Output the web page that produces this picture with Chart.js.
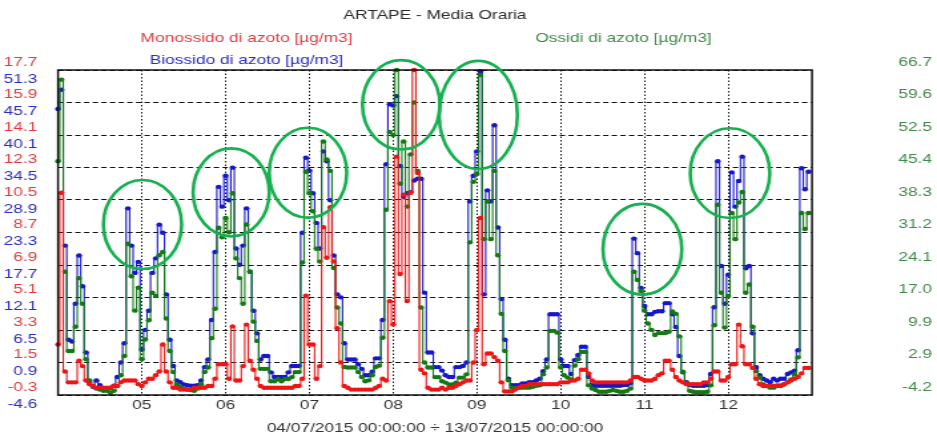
<!DOCTYPE html>
<html>
<head>
<meta charset="utf-8">
<title>ARTAPE - Media Oraria</title>
<script src="https://cdn.jsdelivr.net/npm/chart.js@4.4.1/dist/chart.umd.min.js"></script>
<style>
  html, body { margin: 0; padding: 0; background: #ffffff; }
  #chart { display: block; }
</style>
</head>
<body>
<canvas id="chart" width="704" height="436"></canvas>
<script>
// Day ticks on the time axis (midnight of each day)
const dayLabels = ['05', '06', '07', '08', '09', '10', '11', '12'];

// Tick labels of the three value axes, bottom to top
const redTickLabels   = ['-0.3', '1.5', '3.3', '5.1', '6.9', '8.7', '10.5', '12.3', '14.1', '15.9', '17.7'];
const blueTickLabels  = ['-4.6', '0.9', '6.5', '12.1', '17.7', '23.3', '28.9', '34.5', '40.1', '45.7', '51.3'];
const greenTickLabels = ['-4.2', '2.9', '9.9', '17.0', '24.1', '31.2', '38.3', '45.4', '52.5', '59.6', '66.7'];

// Hourly means from 04/07/2015 00:00, one row per day (24 values)
const monossido = [
  2.5, 10.9, 1.0, 0.4, 0.4, 0.4, 1.6, 1.3, 0.5, 0.3, 0.2, 0.1, 0.1, 0.1, 0.1, 0.1, 0.2, 0.2, 0.4, 0.5, 0.5, 0.5, 0.5, 0.3,
  0.2, 0.4, 0.6, 0.6, 0.8, 1.0, 2.5, 1.0, 0.4, 0.1, 0.1, 0.0, 0.0, 0.0, 0.0, 0.1, 0.1, 0.1, 0.1, 0.2, 0.2, 0.6, 1.4, 1.4,
  1.4, 0.6, 3.5, 0.5, 0.5, 1.3, 3.6, 1.6, 1.1, 0.6, 0.2, 0.1, 0.1, 0.1, 0.1, 0.1, 0.1, 0.1, 0.1, 0.1, 0.2, 0.2, 0.6, 5.2,
  2.5, 2.5, 0.6, 1.3, 9.0, 7.3, 10.1, 7.1, 3.4, 1.5, 0.2, 0.1, 0.0, 0.0, 0.0, 0.0, 0.0, 0.0, 0.0, 0.1, 0.2, 0.6, 0.5, 4.9,
  3.6, 12.9, 6.4, 10.8, 4.9, 10.9, 17.7, 12.0, 1.1, 0.9, 0.1, 0.0, 0.0, 0.0, 0.1, 0.0, 0.1, 0.1, 0.2, 0.3, 0.4, 0.5, 0.5, 1.5,
  3.3, 9.5, 1.4, 2.0, 2.0, 1.8, 1.6, 0.4, -0.1, -0.1, -0.1, 0.0, 0.1, 0.2, 0.2, 0.3, 0.3, 0.3, 0.3, 0.3, 0.3, 0.3, 0.3, 0.3,
  0.4, 0.4, 0.4, 0.5, 0.5, 0.6, 1.1, 1.1, 0.9, 0.5, 0.4, 0.4, 0.4, 0.4, 0.4, 0.4, 0.4, 0.4, 0.4, 0.4, 0.5, 0.7, 0.7, 0.6,
  0.5, 0.5, 0.5, 0.6, 0.8, 0.9, 1.6, 1.6, 1.1, 0.7, 0.5, 0.4, 0.3, 0.3, 0.3, 0.3, 0.3, 0.4, 0.4, 0.6, 1.0, 1.0, 0.5, 0.5,
  0.7, 1.4, 1.4, 3.6, 2.4, 1.4, 1.4, 1.2, 0.6, 0.3, 0.2, 0.2, 0.2, 0.2, 0.2, 0.2, 0.3, 0.4, 0.5, 0.6, 0.7, 0.9, 1.2, 1.2
];

const biossido = [
  44.6, 47.9, 21.1, 4.9, 4.6, 11.1, 19.4, 14.1, 2.7, -2.4, -3.2, -2.1, -2.9, -3.5, -3.5, -3.4, -3.0, -1.5, 1.0, 4.3, 27.5, 21.1, 16.4, 18.3,
  3.2, 6.6, 9.9, 16.4, 18.9, 24.7, 23.3, 12.7, 4.9, 0.4, -2.1, -2.4, -2.8, -2.9, -3.0, -3.0, -2.9, -2.1, 0.2, 1.5, 8.3, 20.0, 31.2, 27.8,
  33.1, 28.9, 34.5, 20.6, 17.8, 21.1, 27.5, 16.6, 9.9, 6.0, 1.5, 2.1, 2.1, -0.7, -1.5, -1.5, -1.5, -1.5, -0.7, 0.4, 0.4, 0.4, 23.3, 36.2,
  34.0, 30.1, 25.0, 20.6, 37.3, 35.6, 28.9, 19.4, 12.7, 12.2, 4.3, 1.5, 1.5, 1.5, 0.7, -0.1, -1.2, -1.2, -0.6, 1.7, 1.7, 8.3, 35.1, 45.4,
  45.2, 46.8, 34.8, 29.5, 30.1, 30.3, 32.3, 32.6, 32.6, 13.0, 2.7, 2.7, 0.2, 0.2, -0.4, -1.2, -1.5, -1.5, 0.2, 0.2, 0.4, 1.0, 28.7, 33.1,
  37.3, 51.1, 12.7, 30.6, 28.7, 41.8, 24.2, 11.9, 4.9, -1.8, -2.9, -2.9, -2.9, -2.6, -2.6, -2.4, -2.4, -2.1, -1.8, -0.5, 1.5, 9.3, 9.3, 9.3,
  1.5, 0.4, 0.4, -1.0, 1.4, 2.3, 3.7, 3.7, -1.5, -2.9, -3.0, -3.0, -3.0, -3.0, -3.0, -3.0, -3.0, -3.0, -2.9, -2.9, -2.6, 22.3, 19.8, 13.8,
  10.7, 9.3, 9.3, 9.7, 9.8, 9.8, 11.2, 11.2, 9.3, 7.1, 2.1, -0.7, -2.4, -2.9, -3.0, -3.0, -3.0, -3.0, -2.9, -1.0, 10.5, 35.6, 17.6, 11.1,
  16.1, 33.7, 27.8, 32.2, 36.4, 17.2, 17.6, 6.0, 0.2, -1.2, -1.8, -2.1, -2.4, -1.8, -2.1, -1.8, -1.8, -1.0, -0.7, -0.4, 3.1, 34.4, 30.8, 33.8
];

const ossidi = [
  46.8, 64.6, 22.7, 5.4, 5.4, 10.7, 21.3, 15.7, 3.6, -1.0, -2.2, -2.8, -3.0, -3.3, -3.3, -3.7, -3.3, -2.2, 0.1, 4.3, 28.8, 21.7, 14.2, 19.2,
  3.6, 7.9, 12.1, 18.1, 17.4, 26.3, 27.0, 12.5, 5.4, 0.8, -1.9, -2.4, -2.8, -3.0, -3.1, -3.3, -2.8, -1.9, 0.8, 1.8, 8.2, 14.6, 32.3, 30.2,
  34.4, 31.3, 39.8, 25.6, 21.3, 15.7, 33.0, 22.7, 11.8, 7.6, 1.5, 1.5, 1.5, -1.2, -1.2, -0.7, -1.2, -0.7, -0.7, -0.3, 0.8, 0.8, 24.7, 44.5,
  39.8, 35.9, 27.7, 24.9, 51.1, 47.2, 44.7, 23.5, 14.9, 11.4, 1.9, 1.8, 1.8, 1.8, 0.8, -0.3, -1.2, -1.0, 0.1, 1.9, 2.2, 8.3, 36.2, 53.2,
  52.5, 66.7, 41.9, 51.1, 36.9, 48.3, 59.6, 44.7, 14.9, 2.9, 1.8, 1.8, -0.3, -0.3, -1.2, -1.5, -1.9, -1.9, -1.5, -0.4, -0.4, 0.3, 29.1, 42.3,
  44.0, 65.6, 29.8, 38.0, 29.8, 44.7, 26.3, 13.5, 5.4, -1.0, -2.6, -2.6, -2.6, -2.6, -2.6, -2.6, -2.4, -2.2, -2.1, 0.3, 1.8, 9.8, 9.8, 9.4,
  1.8, 0.1, -0.4, -0.8, 2.2, 3.6, 5.2, 5.2, -2.1, -2.8, -3.1, -3.5, -3.5, -3.5, -3.3, -3.1, -3.3, -3.5, -3.5, -3.3, -2.8, 22.7, 20.9, 18.5,
  14.2, 11.4, 10.0, 8.9, 9.3, 9.3, 9.3, 9.6, 14.0, 13.5, 8.6, 0.9, -1.6, -3.3, -3.5, -3.6, -3.6, -3.6, -3.5, -2.1, 11.0, 37.3, 18.1, 10.5,
  17.4, 35.5, 29.8, 37.8, 40.1, 18.1, 19.9, 10.7, 1.0, -0.4, -1.9, -2.2, -2.6, -2.6, -2.1, -2.1, -1.9, -1.4, -0.8, 0.3, 4.0, 35.5, 32.0, 35.5
];

const FONT = "'Liberation Sans', Arial, sans-serif";
Chart.defaults.font.family = FONT;
Chart.defaults.font.size = 13;

// Fixed, evenly spaced ticks labelled with the given strings
function fixedAxis(labels) {
  const min = parseFloat(labels[0]);
  const max = parseFloat(labels[labels.length - 1]);
  return {
    min, max,
    afterBuildTicks: s => {
      s.ticks = labels.map((_, i) => ({ value: min + (max - min) * i / (labels.length - 1) }));
    }
  };
}

const toPoints = arr => arr.map((v, i) => ({ x: i, y: v }));

// The NO2 axis takes no room of its own: its labels share the strip of the NO axis
const sharedLeftAxis = {
  id: 'sharedLeftAxis',
  afterLayout(chart) {
    const s = chart.scales.yB;
    s.left = 0;
    s.right = chart.chartArea.left;
    s.width = s.right;
  }
};

// Series names in two columns above the plot
const seriesKey = {
  id: 'seriesKey',
  afterDraw(chart, args, opts) {
    const { ctx, chartArea: a } = chart;
    ctx.save();
    ctx.font = '13px ' + FONT;
    ctx.textAlign = 'center';
    ctx.textBaseline = 'middle';
    chart.data.datasets.forEach((ds, i) => {
      const slot = opts.slots[i];
      ctx.fillStyle = ds.labelColor;
      ctx.fillText(ds.label, a.left + a.width * slot.col, slot.y);
    });
    ctx.restore();
  }
};

// Box around the plotting area
const plotFrame = {
  id: 'plotFrame',
  afterDatasetsDraw(chart, args, opts) {
    const { ctx, chartArea: a } = chart;
    ctx.save();
    ctx.strokeStyle = opts.color;
    ctx.lineWidth = opts.width;
    ctx.strokeRect(a.left, a.top, a.width, a.height);
    ctx.restore();
  }
};

// Ellipses marking the peak periods (hour / NOx level units)
const highlights = {
  id: 'highlights',
  afterDraw(chart, args, opts) {
    const { ctx, scales } = chart;
    const x = scales.x, y = scales.yG;
    ctx.save();
    ctx.strokeStyle = opts.color;
    ctx.lineWidth = opts.width;
    opts.items.forEach(it => {
      const cx = x.getPixelForValue(it.hour);
      const cy = y.getPixelForValue(it.level);
      const rx = x.getPixelForValue(it.hour + it.dh) - cx;
      const ry = cy - y.getPixelForValue(it.level + it.dl);
      ctx.beginPath();
      ctx.ellipse(cx, cy, rx, ry, 0, 0, Math.PI * 2);
      ctx.stroke();
    });
    ctx.restore();
  }
};

function series(label, values, color, labelColor, axis, order) {
  return {
    label, labelColor,
    data: toPoints(values),
    yAxisID: axis,
    order,
    borderColor: color,
    backgroundColor: color,
    borderWidth: 1.1,
    stepped: 'middle',
    pointRadius: 2.2,
    pointHoverRadius: 2.2,
    pointBorderWidth: 0,
    pointBackgroundColor: color,
    clip: false,
    fill: false
  };
}

const chart = new Chart(document.getElementById('chart'), {
  type: 'line',
  data: {
    datasets: [
      series('Monossido di azoto [µg/m3]', monossido, '#ee1515', '#e23a40', 'yR', 1),
      series('Biossido di azoto [µg/m3]', biossido, '#1616cc', '#2c2cc4', 'yB', 3),
      series('Ossidi di azoto [µg/m3]', ossidi, '#137a13', '#3f8a48', 'yG', 2)
    ]
  },
  plugins: [sharedLeftAxis, seriesKey, plotFrame, highlights],
  options: {
    responsive: false,
    devicePixelRatio: 1,
    animation: false,
    events: [],
    layout: { padding: { top: 0, right: 3.8, bottom: 0, left: 0 } },
    plugins: {
      legend: { display: false },
      tooltip: { enabled: false },
      title: {
        display: true,
        text: 'ARTAPE - Media Oraria',
        fullSize: false,
        color: '#2a2a2a',
        font: { size: 13, weight: 'normal' },
        padding: { top: 8, bottom: 46.4 }
      },
      seriesKey: {
        slots: [{ col: 0.25, y: 38 }, { col: 0.25, y: 60 }, { col: 0.75, y: 38 }]
      },
      plotFrame: { color: '#111111', width: 1.5 },
      highlights: {
        color: '#16b050',
        width: 2.6,
        items: [
          { hour: 24.2,  level: 33.0, dh: 11.2, dl: 9.7 },
          { hour: 49.6,  level: 40.0, dh: 10.9, dl: 9.6 },
          { hour: 71.6,  level: 44.3, dh: 11.1, dl: 9.8 },
          { hour: 98.3,  level: 59.1, dh: 11.1, dl: 9.75 },
          { hour: 120.4, level: 56.9, dh: 11.2, dl: 11.8 },
          { hour: 167.4, level: 27.6, dh: 11.3, dl: 9.9 },
          { hour: 192.5, level: 44.2, dh: 11.4, dl: 9.8 }
        ]
      }
    },
    scales: {
      x: {
        type: 'linear',
        position: 'bottom',
        min: 0,
        max: 216,
        afterBuildTicks: s => { s.ticks = dayLabels.map((_, i) => ({ value: (i + 1) * 24 })); },
        afterFit: s => { s.height = 41; },
        ticks: { callback: (v, i) => dayLabels[i], color: '#333333', padding: 3, autoSkip: false, maxRotation: 0 },
        grid: { color: '#111111', lineWidth: 1, drawTicks: false },
        border: { display: false, dash: [1.5, 2] },
        title: {
          display: true,
          text: '04/07/2015 00:00:00 ÷ 13/07/2015 00:00:00',
          color: '#333333',
          font: { size: 13 },
          padding: { top: 0, bottom: 0 }
        }
      },
      yR: {
        position: 'left',
        weight: 1,
        ...fixedAxis(redTickLabels),
        afterFit: s => { s.width = 43.6; },
        ticks: { callback: (v, i) => redTickLabels[i], color: '#e23a40', padding: 7.5, labelOffset: -8, autoSkip: false },
        grid: { display: false },
        border: { display: false }
      },
      yB: {
        position: 'left',
        weight: 0,
        ...fixedAxis(blueTickLabels),
        afterFit: s => { s.width = 0; },
        ticks: { callback: (v, i) => blueTickLabels[i], color: '#2c2cc4', padding: 7.5, labelOffset: 9, autoSkip: false },
        grid: { display: false },
        border: { display: false }
      },
      yG: {
        position: 'right',
        ...fixedAxis(greenTickLabels),
        afterFit: s => { s.width = 90.1; },
        ticks: { callback: (v, i) => greenTickLabels[i], color: '#3f8a48', padding: 0, crossAlign: 'far', labelOffset: -8, autoSkip: false },
        grid: { display: true, color: '#111111', lineWidth: 1, drawTicks: false },
        border: { display: false, dash: [4, 2.5] }
      }
    }
  }
});

// The drawing is laid out narrow and shown widened to the page width
chart.canvas.style.width = '937px';
chart.canvas.style.height = '436px';
</script>
</body>
</html>
